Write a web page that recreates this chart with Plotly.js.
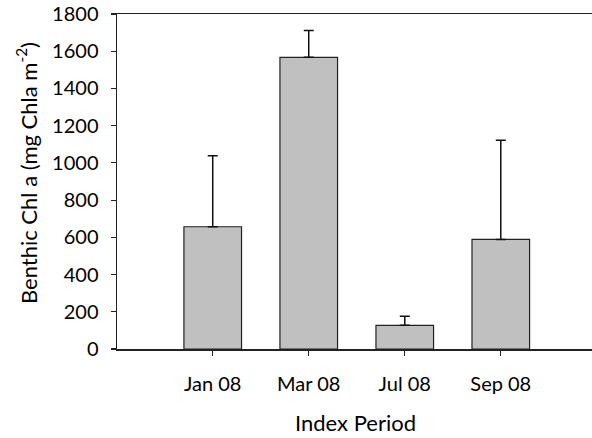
<!DOCTYPE html>
<html>
<head>
<meta charset="utf-8">
<script src="https://cdn.plot.ly/plotly-3.0.1.min.js"></script>
<style>html,body{margin:0;padding:0;background:#fff;}#chart{width:592px;height:438px;}</style>
</head>
<body>
<div id="chart"></div>
<script>
const categories = ["Jan 08", "Mar 08", "Jul 08", "Sep 08"];
const meanValues = [657, 1567, 127, 589];
const errorPlus = [382, 145, 49, 532];
const yTicks = [0, 200, 400, 600, 800, 1000, 1200, 1400, 1600, 1800];
const xTitle = "Index Period";
const yTitle = "Benthic Chl a (mg Chla m<sup>-2</sup>)";

const font = "Lato, 'Open Sans', sans-serif";

Plotly.newPlot("chart", [{
  type: "bar",
  x: categories,
  y: meanValues,
  width: 0.6,
  marker: {color: "#c0c0c0", line: {color: "#222", width: 1.2}},
  error_y: {type: "data", symmetric: false, array: errorPlus, arrayminus: errorPlus.map(() => 0),
            color: "#111", thickness: 1.5, width: 5},
  hoverinfo: "none"
}], {
  width: 592, height: 438,
  margin: {l: 117, r: 0, t: 14, b: 89},
  paper_bgcolor: "#fff", plot_bgcolor: "#fff",
  showlegend: false,
  font: {family: font, size: 20, color: "#000"},
  xaxis: {
    type: "category", range: [-0.997, 3.95],
    showline: true, linecolor: "#222", linewidth: 1.5, mirror: true,
    ticks: "outside", ticklen: 5, tickwidth: 1.2, tickcolor: "#222",
    ticklabelstandoff: 11,
    showgrid: false, zeroline: false,
    tickfont: {family: font, size: 20}
  },
  yaxis: {
    range: [0, 1800], tickvals: yTicks,
    showline: true, linecolor: "#222", linewidth: 1.5,
    ticks: "outside", ticklen: 5, tickwidth: 1.2, tickcolor: "#222",
    ticklabelstandoff: 8,
    showgrid: false, zeroline: false,
    tickfont: {family: font, size: 20}
  },
  annotations: [
    {text: xTitle, xref: "paper", yref: "paper", x: 0.503, y: -0.218,
     xanchor: "center", yanchor: "middle", showarrow: false,
     font: {family: font, size: 22, color: "#000"}},
    {text: yTitle, xref: "paper", yref: "paper", x: -0.189, y: 0.526,
     xanchor: "center", yanchor: "middle", showarrow: false, textangle: -90,
     font: {family: font, size: 22, color: "#000"}}
  ]
}, {displayModeBar: false, staticPlot: true});
</script>
</body>
</html>
